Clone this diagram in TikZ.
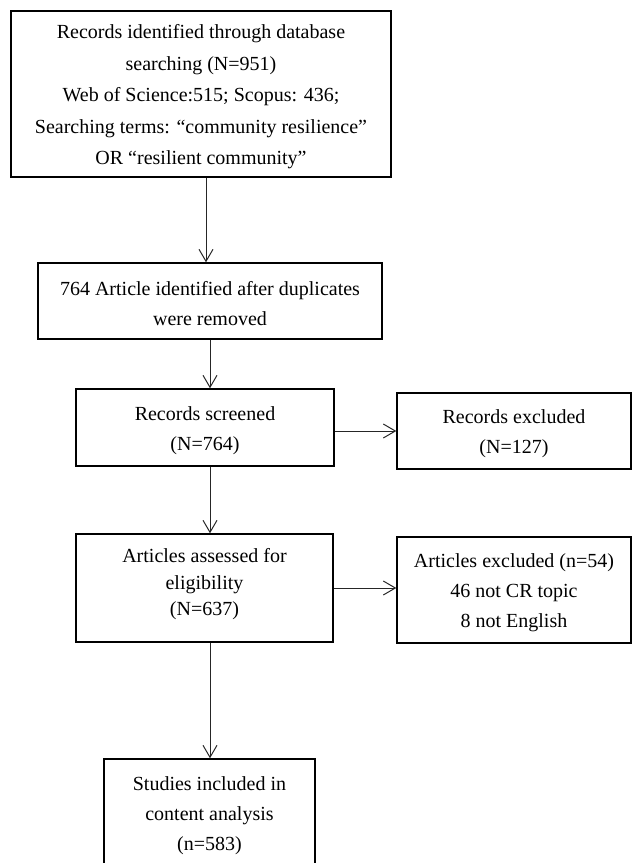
\documentclass[tikz,border=0pt]{standalone}
\usepackage{fontspec}
\setmainfont{Liberation Serif}
\usepackage{tikz}
\usetikzlibrary{arrows.meta, positioning, calc}

\begin{document}
\begin{tikzpicture}[x=0.5pt, y=-0.5pt, >={Straight Barb[length=6pt, width=7pt]},
    stagebox/.style={draw=black, line width=0.7pt, align=center, inner sep=2pt,
        font=\fontsize{10pt}{15pt}\selectfont},
    flow/.style={->, line width=0.5pt, black!85}]
    \useasboundingbox (0,0) rectangle (632,863);
    % Identification
    \node[stagebox, minimum width=190pt, minimum height=83pt,
        font=\fontsize{10pt}{15.75pt}\selectfont] (search) at (201,94)
        {\rule{0pt}{10pt}Records identified through database\\searching (N=951)\\Web of Science:515; Scopus: 436;\\Searching terms: “community resilience”\\OR “resilient community”};
    \node[stagebox, minimum width=172pt, minimum height=38pt] (dedup) at (210,301)
        {\rule{0pt}{10pt}764 Article identified after duplicates\\were removed};
    % Screening
    \node[stagebox, minimum width=129pt, minimum height=38.5pt] (screen) at (205,427.5)
        {\rule{0pt}{10pt}Records screened\\(N=764)};
    \node[stagebox, minimum width=117pt, minimum height=38pt] (recexcl) at (514,431)
        {\rule{0pt}{10pt}Records excluded\\(N=127)};
    % Eligibility
    \node[stagebox, minimum width=128.5pt, minimum height=54pt, text depth=8.7pt,
        font=\fontsize{10pt}{13.25pt}\selectfont] (elig) at (204.5,588)
        {\rule{0pt}{10pt}Articles assessed for\\eligibility\\(N=637)};
    \node[stagebox, minimum width=117pt, minimum height=53pt] (artexcl) at (514,590)
        {\rule{0pt}{10pt}Articles excluded (n=54)\\46 not CR topic\\8 not English};
    % Included
    \node[stagebox, minimum width=105.5pt, minimum height=54pt] (incl) at (209.5,813)
        {\rule{0pt}{10pt}Studies included in\\content analysis\\(n=583)};
    % Connectors
    \draw[flow] ([xshift=2.5pt]search.south) -- ([xshift=2.5pt]search.south |- dedup.north);
    \draw[flow] (dedup.south) -- (dedup.south |- screen.north);
    \draw[flow] (dedup.south |- screen.south) -- (dedup.south |- elig.north);
    \draw[flow] (dedup.south |- elig.south) -- (dedup.south |- incl.north);
    \draw[flow] (recexcl.west -| screen.east) -- (recexcl.west);
    \draw[flow] (elig.east) -- (elig.east -| artexcl.west);
\end{tikzpicture}
\end{document}
